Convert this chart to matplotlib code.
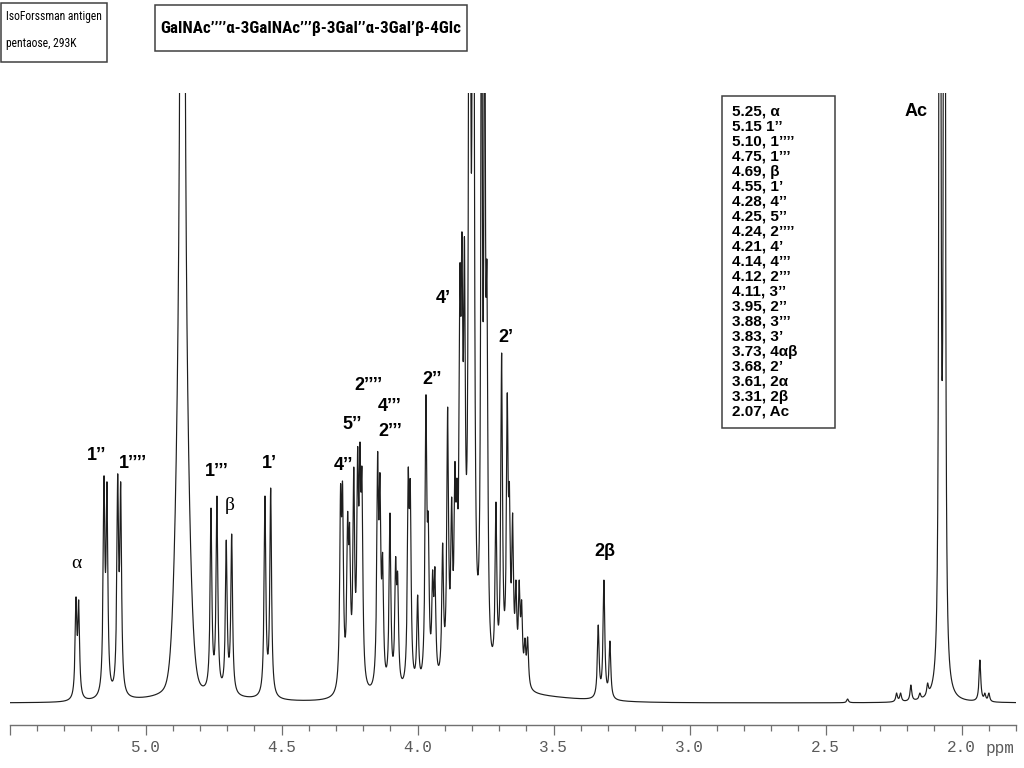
import numpy as np
import matplotlib
matplotlib.use("Agg")
import matplotlib.pyplot as plt
from matplotlib import font_manager as fm
from matplotlib.patches import Rectangle
from matplotlib.ticker import MultipleLocator

# ---------------- data ----------------
# resolved multiplet lines: chemical shift (ppm) and observed height (plot units)
line_ppm = [5.2563, 5.2463, 5.1533, 5.1423, 5.1029, 5.0919,
            4.7599, 4.7379, 4.7037, 4.6838, 4.5614, 4.5404,
            4.2835, 4.2761, 4.2574, 4.2500, 4.2349, 4.2206, 4.2121, 4.2048,
            4.1471, 4.1386, 4.1287, 4.1018, 4.0809, 4.0735, 4.0346, 4.0272, 4.0000,
            3.9695, 3.9610, 3.9449, 3.9364, 3.9081, 3.8897, 3.8750, 3.8629, 3.8555,
            3.8445, 3.8371, 3.8279, 3.7882, 3.7452, 3.7121, 3.6912, 3.6706, 3.6625,
            3.6507, 3.6386, 3.6265, 3.6176, 3.6055, 3.5956,
            3.3360, 3.3151, 3.2930,
            2.4191, 2.2390, 2.2243, 2.1864, 2.1533, 2.1250, 1.9327, 1.9143, 1.8996]
line_height = [106, 103, 227, 221, 229, 221,
               195, 207, 163, 169, 207, 215,
               218, 221, 191, 180, 236, 256, 261, 235,
               251, 230, 150, 190, 146, 131, 235, 223, 108,
               308, 190, 133, 136, 160, 296, 206, 241, 225,
               438, 471, 466, 290, 440, 201, 350, 310, 220,
               190, 123, 123, 103, 65, 66,
               78, 123, 62,
               4, 10, 10, 18, 10, 20, 43, 10, 10]
line_fwhm = 0.0075

# off-scale lines (HDO, 3' / 4ab region, acetyl methyls)
big_ppm = [4.8647, 3.8091, 3.7956, 3.7650, 3.7537, 2.0798, 2.0632]
big_amp = [2800, 1500, 1500, 800, 700, 4000, 4000]
big_fwhm = [0.0081, 0.0060, 0.0060, 0.0060, 0.0060, 0.0034, 0.0034]

# broad components (HDO base, baseline humps)
broad_ppm = [4.8647, 4.80, 3.75]
broad_amp = [300, 4, 8]
broad_sigma = [0.0202, 0.20, 0.25]

# peak labels
label_text = ["α", "1’’", "1’’’’", "1’’’", "β", "1’", "4’’", "5’’", "2’’’’",
              "4’’’", "2’’’", "2’’", "4’", "2’", "2β", "Ac"]
label_ppm = [5.2537, 5.1801, 5.0456, 4.7390, 4.6901, 4.5456, 4.2735, 4.2426,
             4.1816, 4.1018, 4.1018, 3.9485, 3.9059, 3.6754, 3.3114, 2.1691]
label_height = [139.7, 248, 239.7, 231.3, 198, 239.7, 238, 278.7, 317,
                296.3, 271.3, 323, 404.7, 365.7, 151.3, 591.3]

# assignment table
table_lines = ["5.25, α", "5.15 1’’", "5.10, 1’’’’", "4.75, 1’’’", "4.69, β",
               "4.55, 1’", "4.28, 4’’", "4.25, 5’’", "4.24, 2’’’’", "4.21, 4’",
               "4.14, 4’’’", "4.12, 2’’’", "4.11, 3’’", "3.95, 2’’", "3.88, 3’’’",
               "3.83, 3’", "3.73, 4αβ", "3.68, 2’", "3.61, 2α", "3.31, 2β", "2.07, Ac"]

major_ticks = [5.5, 5.0, 4.5, 4.0, 3.5, 3.0, 2.5, 2.0]
major_labels = ["", "5.0", "4.5", "4.0", "3.5", "3.0", "2.5", "2.0"]

title_text = "GalNAc’’’’α-3GalNAc’’’β-3Gal’’α-3Gal’β-4Glc"
sample_lines = ["IsoForssman antigen", "pentaose, 293K"]

# ---------------- build spectrum from the peak list ----------------
def lor(x, x0, fwhm):
    return 1.0 / (1.0 + (2.0 * (x - x0) / fwhm) ** 2)

def gau(x, x0, s):
    return np.exp(-0.5 * ((x - x0) / s) ** 2)

def fixed_part(x):
    y = np.zeros_like(x, dtype=float)
    for p, a, w in zip(big_ppm, big_amp, big_fwhm):
        y += a * lor(x, p, w)
    for p, a, s in zip(broad_ppm, broad_amp, broad_sigma):
        y += a * gau(x, p, s)
    return y

pk = np.array(line_ppm)
tg = np.array(line_height, dtype=float)
A = lor(pk[:, None], pk[None, :], line_fwhm)
b = tg - fixed_part(pk)
active = b > 0
amp = np.zeros(len(pk))
for _ in range(60):
    idx = np.flatnonzero(active)
    sol = np.linalg.solve(A[np.ix_(idx, idx)], b[idx])
    amp[:] = 0
    amp[idx] = np.clip(sol, 0, None)
    if (sol >= 0).all():
        break
    active[idx[sol < 0]] = False

grid = np.arange(1.8, 5.5 + 1e-9, 0.0002)
spec = fixed_part(grid) + (amp[None, :] * lor(grid[:, None], pk[None, :], line_fwhm)).sum(axis=1)

# ---------------- fonts ----------------
def has_font(name):
    try:
        fm.findfont(fm.FontProperties(family=name), fallback_to_default=False)
        return True
    except Exception:
        return False

NARROW = "Liberation Sans"
for cand in ["Liberation Sans Narrow", "Arial Narrow", "Roboto Condensed",
             "Open Sans Condensed", "DejaVu Sans Condensed"]:
    if has_font(cand):
        NARROW = cand
        break
SANS = ["Liberation Sans", "DejaVu Sans"]
MONO = "Liberation Mono"

# ---------------- figure ----------------
W, H = 1024, 768
fig = plt.figure(figsize=(W / 100, H / 100), dpi=100)
renderer = fig.canvas.get_renderer()

def fx(x):
    return x / W

def fy(y):
    return 1 - y / H

def fit_width(txt, target_px, max_size):
    """shrink font so that the rendered text is about target_px wide"""
    bb = txt.get_window_extent(renderer=renderer)
    size = txt.get_fontsize()
    if bb.width > 0:
        size = min(max_size, size * target_px / bb.width)
    txt.set_fontsize(size)
    return size

ax = fig.add_axes([fx(9.7), fy(725), (1016 - 9.7) / W, (725 - 93) / H])
ax.plot(grid, spec, color="#1e1e1e", lw=0.85)
ax.set_xlim(5.5, 1.8)
ax.set_ylim(-22, 610)
for s in ["top", "left", "right"]:
    ax.spines[s].set_visible(False)
ax.spines["bottom"].set_color("#707070")
ax.spines["bottom"].set_linewidth(1.0)
ax.yaxis.set_visible(False)
ax.set_xticks(major_ticks, labels=major_labels)
ax.xaxis.set_minor_locator(MultipleLocator(0.1))
ax.tick_params(axis="x", which="major", length=7.2, width=0.9, color="#707070",
               pad=3.6, labelsize=11.5, labelcolor="#5a5a5a")
ax.tick_params(axis="x", which="minor", length=4.6, width=0.9, color="#707070")
for lab in ax.get_xticklabels():
    lab.set_fontfamily(MONO)
fig.text(fx(986), fy(748.5), "ppm", ha="left", va="center", family=MONO,
         fontsize=11.5, color="#5a5a5a")

# peak labels
for t, p, h in zip(label_text, label_ppm, label_height):
    if t in ("α", "β"):
        ax.text(p, h, t, ha="center", va="center", fontsize=14,
                family=["Liberation Serif", "DejaVu Serif"], color="black")
    else:
        ax.text(p, h, t, ha="center", va="center", fontsize=13,
                family=SANS, fontweight="bold", color="black")

# sample box
fig.add_artist(Rectangle((fx(0.8), fy(62.3)), fx(106.7 - 0.8), (62.3 - 3.3) / H,
                         transform=fig.transFigure, fill=False, ec="#404040", lw=1.1))
s1 = fig.text(fx(6), fy(16.7), sample_lines[0], ha="left", va="center",
              family=[NARROW] + SANS, fontsize=11)
sz = fit_width(s1, 96, 11)
fig.text(fx(6), fy(43.3), sample_lines[1], ha="left", va="center",
         family=[NARROW] + SANS, fontsize=sz)

# title box
fig.add_artist(Rectangle((fx(155), fy(50.7)), fx(467.3 - 155), (50.7 - 4.7) / H,
                         transform=fig.transFigure, fill=False, ec="#404040", lw=1.1))
tt = fig.text(fx(311), fy(28.3), title_text, ha="center", va="center",
              family=[NARROW] + SANS, fontweight="bold", fontsize=16)
fit_width(tt, 302, 16)

# assignment table
fig.add_artist(Rectangle((fx(721.7), fy(428.3)), fx(835 - 721.7), (428.3 - 95.7) / H,
                         transform=fig.transFigure, fill=False, ec="#404040", lw=1.1))
for i, t in enumerate(table_lines):
    fig.text(fx(732.3), fy(111.7 + 15 * i), t, ha="left", va="center",
             family=SANS, fontweight="bold", fontsize=11)

fig.savefig("out.png", dpi=100)
